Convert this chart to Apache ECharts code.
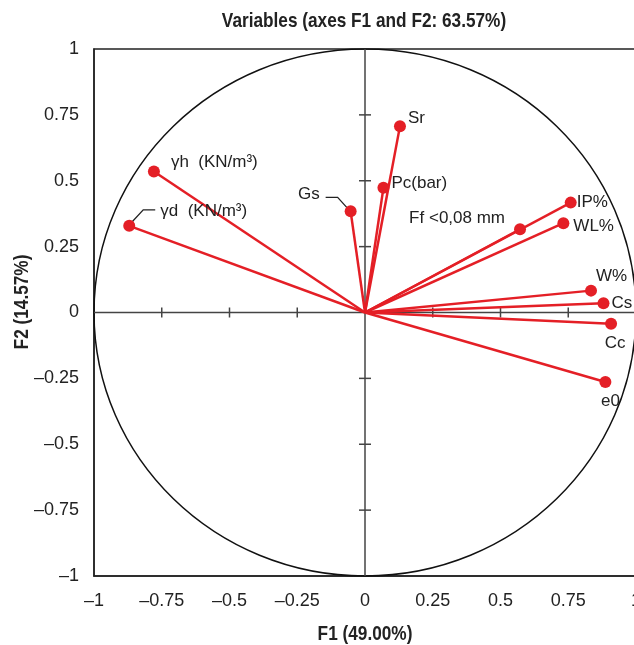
<!DOCTYPE html>
<html>
<head>
<meta charset="utf-8">
<script src="https://cdn.jsdelivr.net/npm/echarts@6/dist/echarts.min.js"></script>
<style>
  html, body { margin: 0; padding: 0; background: #fff; }
  #main { width: 634px; height: 645px; }
</style>
</head>
<body>
<div id="main"></div>
<script>
  // variables on the correlation circle (F1 / F2 loadings)
  var names = ['Sr', 'Pc(bar)', 'Gs', 'γh  (KN/m³)', 'γd  (KN/m³)', 'IP%', 'Ff <0,08 mm', 'WL%', 'W%', 'Cs', 'Cc', 'e0'];
  var f1 = [0.129, 0.068, -0.053, -0.779, -0.870, 0.759, 0.572, 0.732, 0.834, 0.880, 0.908, 0.887];
  var f2 = [0.707, 0.473, 0.384, 0.535, 0.329, 0.417, 0.316, 0.339, 0.083, 0.035, -0.043, -0.264];
  var innerTicks = [-0.75, -0.5, -0.25, 0.25, 0.5, 0.75];

  var RED = '#e41f26';
  var FONT = '"Liberation Sans", Arial, sans-serif';

  // where each label sits around its dot (pixels)
  var labelPlace = [
    {position: 'right', offset: [-3, -8]},
    {position: 'right', offset: [-3, -5]},
    {position: 'left', offset: [-20, -17]},
    {position: 'right', offset: [6, -9]},
    {position: 'right', offset: [20, -14]},
    {position: 'right', offset: [-5, 0]},
    {position: 'left', offset: [-4, -11]},
    {position: 'right', offset: [-1, 3]},
    {position: 'right', offset: [-6, -14]},
    {position: 'right', offset: [-3, 0]},
    {position: 'bottom', offset: [4, 0]},
    {position: 'bottom', offset: [5, 0]}
  ];
  // bent leader lines for two labels, relative to the dot
  var leaders = {
    2: [[-3, -3], [-13, -14], [-25, -14]],
    4: [[3, -4], [14, -16], [26, -16]]
  };

  var dash = function (v) { return String(v).replace('-', '\u2013'); };

  var points = names.map(function (n, i) {
    return {name: n, value: [f1[i], f2[i]], label: labelPlace[i]};
  });

  var boldText = function (text, x, y, rot) {
    return {
      type: 'text', x: x, y: y, rotation: rot || 0, scaleX: 0.82,
      style: {text: text, fontFamily: FONT, fontSize: 21, fontWeight: 'bold', fill: '#222', align: 'center', verticalAlign: 'middle'}
    };
  };

  var chart = echarts.init(document.getElementById('main'));

  var option = {
    animation: false,
    graphic: [
      boldText('Variables (axes F1 and F2: 63.57%)', 364, 21),
      boldText('F1 (49.00%)', 365, 634),
      boldText('F2 (14.57%)', 22, 302, Math.PI / 2)
    ],
    grid: {left: 94, top: 49, width: 542, height: 527, show: true, borderColor: '#222', borderWidth: 1.5, outerBoundsMode: 'none'},
    xAxis: {
      type: 'value', min: -1, max: 1, interval: 0.25,
      axisLine: {onZero: false, lineStyle: {color: '#222', width: 1.5}},
      axisTick: {show: false},
      splitLine: {show: false},
      axisLabel: {formatter: dash, fontFamily: FONT, fontSize: 18, color: '#222', margin: 16}
    },
    yAxis: {
      type: 'value', min: -1, max: 1, interval: 0.25,
      axisLine: {onZero: false, lineStyle: {color: '#222', width: 1.5}},
      axisTick: {show: false},
      splitLine: {show: false},
      axisLabel: {formatter: dash, fontFamily: FONT, fontSize: 18, color: '#222', margin: 15}
    },
    series: [
      {
        // circle and central cross with ticks
        type: 'custom',
        data: [[0, 0]],
        silent: true,
        z: 1,
        renderItem: function (params, api) {
          var o = api.coord([0, 0]);
          var l = api.coord([-1, 0]), r = api.coord([1, 0]);
          var t = api.coord([0, 1]), b = api.coord([0, -1]);
          var rx = api.size([1, 0])[0], ry = api.size([0, 1])[1];
          var axisStyle = {stroke: '#444', lineWidth: 1.5};
          var kids = [
            {type: 'ellipse', shape: {cx: o[0], cy: o[1], rx: rx, ry: ry}, style: {fill: null, stroke: '#111', lineWidth: 1.5}},
            {type: 'line', shape: {x1: l[0], y1: l[1], x2: r[0], y2: r[1]}, style: axisStyle},
            {type: 'line', shape: {x1: t[0], y1: t[1], x2: b[0], y2: b[1]}, style: axisStyle}
          ];
          innerTicks.forEach(function (v) {
            var px = api.coord([v, 0]);
            kids.push({type: 'line', shape: {x1: px[0], y1: px[1] - 5, x2: px[0], y2: px[1] + 5}, style: axisStyle});
            var py = api.coord([0, v]);
            kids.push({type: 'line', shape: {x1: py[0] - 6, y1: py[1], x2: py[0] + 6, y2: py[1]}, style: axisStyle});
          });
          return {type: 'group', children: kids};
        }
      },
      {
        // vectors from origin
        type: 'custom',
        data: points.map(function (p) { return p.value; }),
        silent: true,
        z: 2,
        renderItem: function (params, api) {
          var o = api.coord([0, 0]);
          var p = api.coord([api.value(0), api.value(1)]);
          var kids = [{type: 'line', shape: {x1: o[0], y1: o[1], x2: p[0], y2: p[1]}, style: {stroke: RED, lineWidth: 2.5}}];
          var ld = leaders[params.dataIndex];
          if (ld) {
            kids.push({
              type: 'polyline',
              shape: {points: ld.map(function (d) { return [p[0] + d[0], p[1] + d[1]]; })},
              style: {stroke: '#222', lineWidth: 1.3, fill: null}
            });
          }
          return {type: 'group', children: kids};
        }
      },
      {
        type: 'scatter',
        data: points,
        symbolSize: 12,
        z: 3,
        itemStyle: {color: RED, opacity: 1},
        label: {
          show: true, formatter: '{b}',
          fontFamily: FONT, fontSize: 17, color: '#222'
        }
      }
    ]
  };

  chart.setOption(option);
</script>
</body>
</html>
